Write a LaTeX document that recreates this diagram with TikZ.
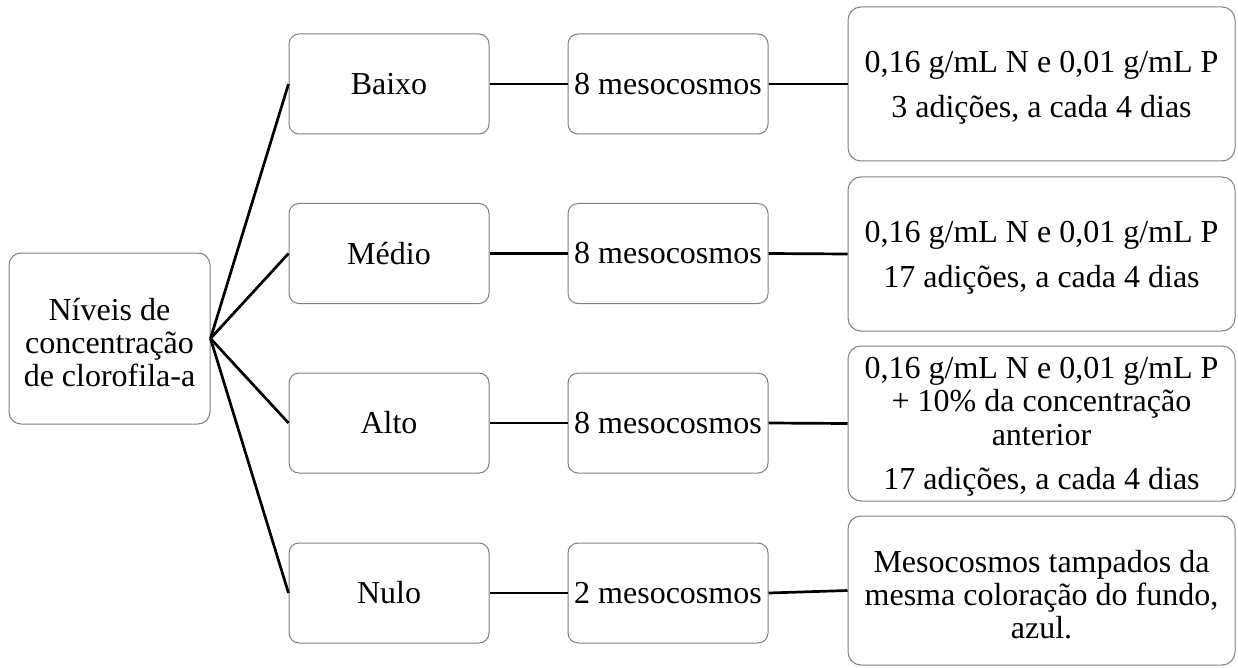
\documentclass[tikz,border=0pt]{standalone}
\usepackage{fontspec}
\setmainfont{Liberation Serif}
\begin{document}
\begin{tikzpicture}[x=1pt,y=-1pt,
  box/.style={draw=black!50, line width=1pt, fill=white, rounded corners=10pt,
    align=center, inner sep=0pt, font=\fontsize{32}{33.3}\selectfont},
  txt/.style={align=center, inner sep=0pt, font=\fontsize{32}{33.3}\selectfont},
  lvl/.style={box, minimum width=200pt, minimum height=100pt},
  bigbox/.style={box, rounded corners=13pt, minimum width=387pt},
  link/.style={draw=black, line width=2.7pt}]
\path[fill=white] (0,0) rectangle (1238,668);
\useasboundingbox (0,0) rectangle (1238,668);

\node[box, minimum width=201pt, minimum height=171pt, rounded corners=12pt] (root) at (109.5,338.5) {};
\node[txt] (roott) at ([yshift=-4pt]root.center) {Níveis de\\concentração\\de clorofila-a};

\node[lvl] (l1) at (389,84) {Baixo};
\node[lvl] (l2) at (389,253.5) {Médio};
\node[lvl] (l3) at (389,423) {Alto};
\node[lvl] (l4) at (389,593) {Nulo};

\node[lvl] (m1) at (668,84) {8 mesocosmos};
\node[lvl] (m2) at (668,253.5) {8 mesocosmos};
\node[lvl] (m3) at (668,423) {8 mesocosmos};
\node[lvl] (m4) at (668,593) {2 mesocosmos};

\node[bigbox, minimum height=154pt] (r1) at (1041.5,84) {};
\node[txt] (r1t) at ([yshift=-4pt]r1.center)
  {0,16 g/mL N e 0,01 g/mL P\\[11.5pt]3 adições, a cada 4 dias};
\node[bigbox, minimum height=154pt] (r2) at (1041.5,254) {};
\node[txt] (r2t) at ([yshift=-4pt]r2.center)
  {0,16 g/mL N e 0,01 g/mL P\\[11.5pt]17 adições, a cada 4 dias};
\node[bigbox, minimum height=155pt] (r3) at (1041.5,423.5) {};
\node[txt] (r3t) at ([yshift=-3.5pt]r3.center)
  {0,16 g/mL N e 0,01 g/mL P\\+ 10\% da concentração\\anterior\\[11.5pt]17 adições, a cada 4 dias};
\node[bigbox, minimum height=149pt] (r4) at (1041.5,590.5) {};
\node[txt] (r4t) at ([yshift=-4pt]r4.center)
  {Mesocosmos tampados da\\mesma coloração do fundo,\\azul.};

\foreach \i in {1,2,3,4}{
  \draw[link] (root.east) -- (l\i.west);
  \draw[link] (l\i.east) -- (m\i.west);
  \draw[link] (m\i.east) -- (r\i.west);
}
\end{tikzpicture}
\end{document}
